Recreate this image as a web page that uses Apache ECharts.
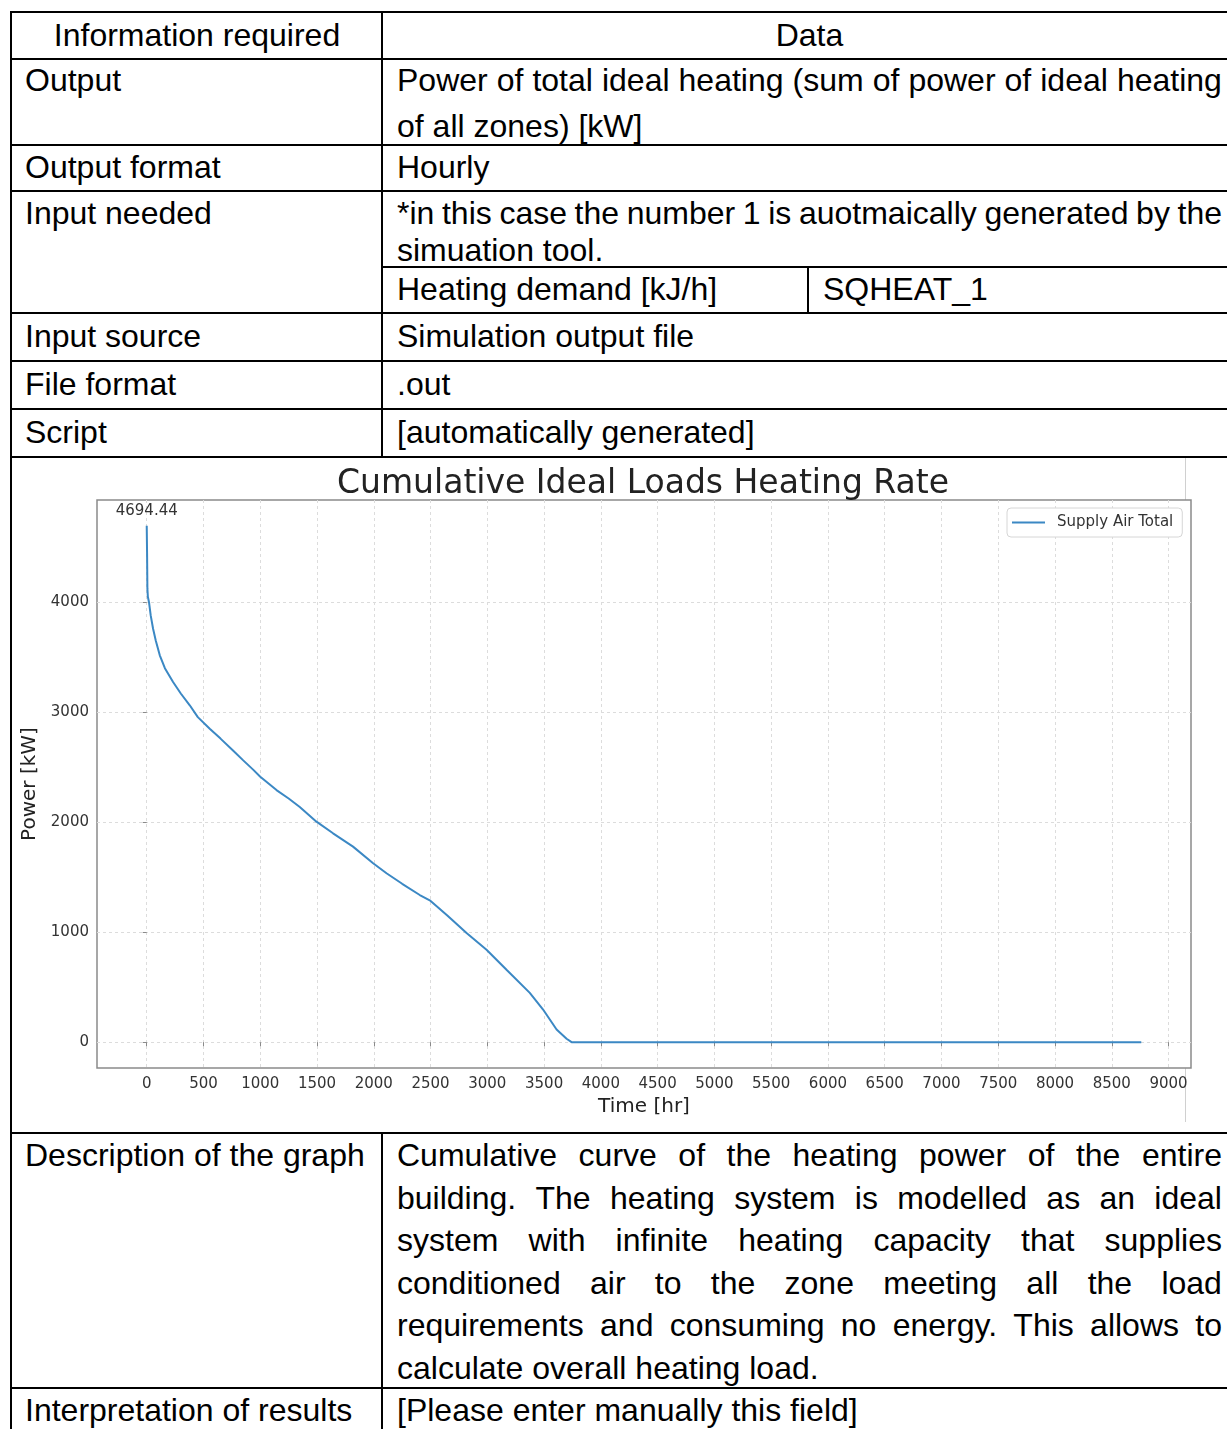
<!DOCTYPE html>
<html><head><meta charset="utf-8">
<script src="https://cdn.jsdelivr.net/npm/echarts@6/dist/echarts.min.js"></script>
<style>
html,body{margin:0;padding:0;background:#fff;width:1227px;height:1429px;overflow:hidden;}
body{position:relative;font-family:"Liberation Sans",Arial,sans-serif;font-size:32px;color:#000;}
.h{position:absolute;height:2px;background:#000;}
.v{position:absolute;width:2px;background:#000;}
.t{position:absolute;white-space:nowrap;line-height:36px;height:36px;}
.j{position:absolute;left:397px;width:825px;display:flex;justify-content:space-between;white-space:nowrap;line-height:36px;height:36px;}
.L{left:25px;}
.R{left:397px;}
#gline{position:absolute;left:1185px;top:458px;width:1px;height:664px;background:#d0d0d0;}
#chart{position:absolute;left:12px;top:459px;width:1262px;height:672px;}
</style></head>
<body>
<!-- table rules -->
<div class="h" style="left:10px;top:11px;width:1226px"></div>
<div class="h" style="left:10px;top:58px;width:1226px"></div>
<div class="h" style="left:10px;top:144px;width:1226px"></div>
<div class="h" style="left:10px;top:190px;width:1226px"></div>
<div class="h" style="left:382px;top:266px;width:854px"></div>
<div class="h" style="left:10px;top:312px;width:1226px"></div>
<div class="h" style="left:10px;top:360px;width:1226px"></div>
<div class="h" style="left:10px;top:408px;width:1226px"></div>
<div class="h" style="left:10px;top:456px;width:1226px"></div>
<div class="h" style="left:10px;top:1132px;width:1226px"></div>
<div class="h" style="left:10px;top:1387px;width:1226px"></div>
<div class="v" style="left:10px;top:11px;height:1420px"></div>
<div class="v" style="left:381px;top:11px;height:447px"></div>
<div class="v" style="left:381px;top:1132px;height:300px"></div>
<div class="v" style="left:807px;top:266px;height:47px"></div>

<!-- table text -->
<div class="t" style="left:12px;width:370px;text-align:center;top:17px">Information required</div>
<div class="t" style="left:383px;width:853px;text-align:center;top:17px">Data</div>
<div class="t L" style="top:62px">Output</div>
<div class="j" style="top:62px">Power of total ideal heating (sum of power of ideal heating</div>
<div class="t R" style="top:108px">of all zones) [kW]</div>
<div class="t L" style="top:149px">Output format</div>
<div class="t R" style="top:149px">Hourly</div>
<div class="t L" style="top:195px">Input needed</div>
<div class="j" style="top:195px">*in this case the number 1 is auotmaically generated by the</div>
<div class="t R" style="top:232px">simuation tool.</div>
<div class="t R" style="top:271px">Heating demand [kJ/h]</div>
<div class="t" style="left:823px;top:271px">SQHEAT_1</div>
<div class="t L" style="top:318px">Input source</div>
<div class="t R" style="top:318px">Simulation output file</div>
<div class="t L" style="top:366px">File format</div>
<div class="t R" style="top:366px">.out</div>
<div class="t L" style="top:414px">Script</div>
<div class="t R" style="top:414px">[automatically generated]</div>
<div class="t L" style="top:1137px">Description of the graph</div>
<div class="j" style="top:1137px">Cumulative curve of the heating power of the entire</div>
<div class="j" style="top:1180px">building. The heating system is modelled as an ideal</div>
<div class="j" style="top:1222px">system with infinite heating capacity that supplies</div>
<div class="j" style="top:1265px">conditioned air to the zone meeting all the load</div>
<div class="j" style="top:1307px">requirements and consuming no energy. This allows to</div>
<div class="t R" style="top:1350px">calculate overall heating load.</div>
<div class="t L" style="top:1392px">Interpretation of results</div>
<div class="t R" style="top:1392px">[Please enter manually this field]</div>

<div id="gline"></div>
<div id="chart"></div>
<script>
// split justified lines into word spans
document.querySelectorAll('.j').forEach(function(el){
  var words = el.textContent.split(' ');
  el.textContent = '';
  words.forEach(function(w){ var s=document.createElement('span'); s.textContent=w; el.appendChild(s); });
});

// ---- chart data ----
const chartTitle = 'Cumulative Ideal Loads Heating Rate';
const seriesName = 'Supply Air Total';
const hours = [0, 3, 6, 10, 20, 35, 56, 80, 115, 160, 232, 300, 379, 450, 555, 650, 760, 850, 937, 1000, 1143, 1250, 1348, 1495, 1641, 1817, 1994, 2112, 2250, 2405, 2493, 2650, 2817, 2993, 3169, 3374, 3491, 3610, 3698, 3742, 8760];
const power = [4694.44, 4450, 4121, 4050, 4000, 3880, 3759, 3650, 3517, 3400, 3274, 3170, 3063, 2955, 2850, 2760, 2652, 2562, 2478, 2413, 2292, 2215, 2138, 2005, 1899, 1778, 1627, 1536, 1440, 1338, 1290, 1150, 992, 841, 659, 448, 297, 115, 31, 0, 0];
const xTicks = [0, 500, 1000, 1500, 2000, 2500, 3000, 3500, 4000, 4500, 5000, 5500, 6000, 6500, 7000, 7500, 8000, 8500, 9000];
const yTicks = [0, 1000, 2000, 3000, 4000];
const peakLabel = '4694.44';

const xMin = -438, xMax = 9198, yMin = -234.7, yMax = 4929.2;
const tickFont = {fontFamily:'DejaVu Sans', fontSize:15, color:'#333'};
const plain = function(v){ return String(v); };

const chart = echarts.init(document.getElementById('chart'), null, {renderer:'canvas'});
chart.setOption({
  animation:false,
  backgroundColor:'transparent',
  title:{text:chartTitle, left:'center', top:9, padding:0,
    textStyle:{fontFamily:'DejaVu Sans', fontSize:33, fontWeight:'normal', color:'#222'}},
  legend:{data:[seriesName], left:995, top:49, orient:'vertical', icon:'rect',
    backgroundColor:'#fff', borderColor:'#d6d6d6', borderWidth:1, borderRadius:4,
    padding:[7,9,7,5], itemWidth:33, itemHeight:2,
    textStyle:{fontFamily:'DejaVu Sans', fontSize:15, color:'#333', padding:[0,0,0,7]}},
  grid:{left:85, top:41, width:1094, height:568, show:true, backgroundColor:'#fff',
    borderColor:'#8a8a8a', borderWidth:1.5, containLabel:false, outerBoundsMode:'none'},
  xAxis:{type:'value', min:xMin, max:xMax,
    axisLine:{show:false},
    axisTick:{show:true, customValues:xTicks, length:4, lineStyle:{color:'#8a8a8a'}},
    axisLabel:Object.assign({customValues:xTicks, margin:9, formatter:plain}, tickFont),
    splitLine:{show:true, lineStyle:{color:'#dcdcdc', type:[3,3], width:1}},
    name:'Time [hr]', nameLocation:'middle', nameGap:24,
    nameTextStyle:{fontFamily:'DejaVu Sans', fontSize:20, color:'#222'}},
  yAxis:{type:'value', min:yMin, max:yMax,
    axisLine:{show:false},
    axisTick:{show:true, customValues:yTicks, length:4, lineStyle:{color:'#8a8a8a'}},
    axisLabel:Object.assign({customValues:yTicks, margin:8, formatter:plain}, tickFont),
    splitLine:{show:true, lineStyle:{color:'#dcdcdc', type:[3,3], width:1}},
    name:'Power [kW]', nameLocation:'middle', nameGap:51, nameRotate:90,
    nameTextStyle:{fontFamily:'DejaVu Sans', fontSize:20, color:'#222'}},
  series:[{
    name:seriesName, type:'line', symbol:'none',
    data:hours.map((h,i)=>[h, power[i]]),
    lineStyle:{color:'#3b88c4', width:2},
    itemStyle:{color:'#3b88c4'},
    markPoint:{symbol:'circle', symbolSize:1, itemStyle:{color:'rgba(0,0,0,0)'},
      data:[{coord:[hours[0], power[0]], value:power[0]}],
      label:{show:true, position:'top', distance:7, formatter:peakLabel,
        fontFamily:'DejaVu Sans', fontSize:15, color:'#333'}}
  }]
});
</script>
</body></html>
